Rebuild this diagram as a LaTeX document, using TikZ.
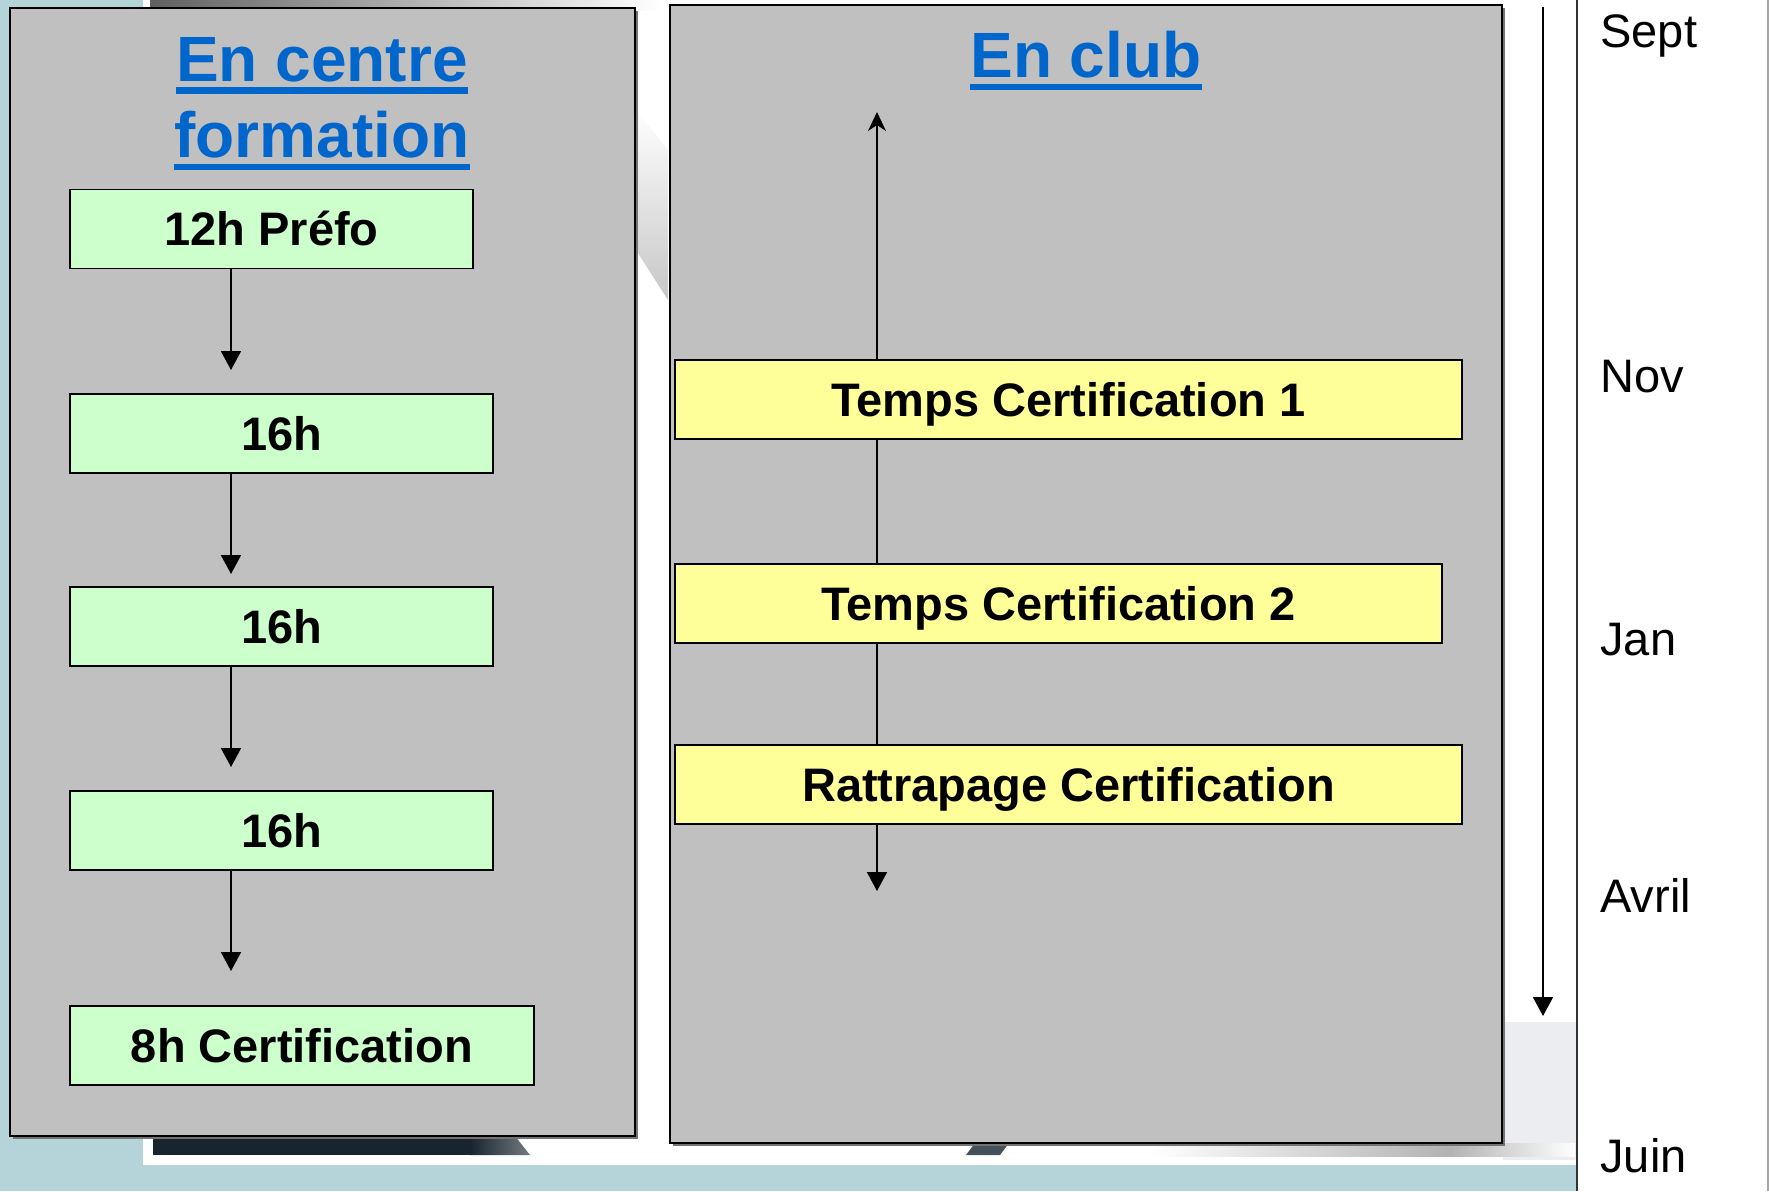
\documentclass[tikz,border=0pt]{standalone}
\usepackage{fontspec}
\setmainfont{Liberation Sans}
\usetikzlibrary{arrows.meta}
\definecolor{bgblue}{RGB}{180,212,218}
\definecolor{panelgray}{RGB}{192,192,192}
\definecolor{boxgreen}{RGB}{204,255,204}
\definecolor{boxyellow}{RGB}{255,255,153}
\definecolor{titleblue}{RGB}{0,102,204}
\definecolor{stripdark}{RGB}{24,36,46}
\definecolor{paleback}{RGB}{236,237,240}
\begin{document}
\begin{tikzpicture}[x=0.5pt,y=-0.5pt,
  panel/.style={draw=black, fill=panelgray, line width=1.1pt},
  panelshadow/.style={fill=black!55},
  boxbase/.style={draw=black, line width=0.9pt, inner sep=0pt,
    font=\fontsize{23.5}{28}\selectfont\bfseries, text height=16.8pt, text depth=0pt,
    minimum height=39.5pt},
  greenbox/.style={boxbase, fill=boxgreen},
  yellowbox/.style={boxbase, fill=boxyellow},
  titletext/.style={inner sep=0pt, anchor=base, text=titleblue,
    font=\fontsize{32}{38}\selectfont\bfseries},
  uline/.style={draw=titleblue, line width=3.3pt},
  month/.style={inner sep=0pt, anchor=base west, font=\fontsize{23.5}{28}\selectfont},
  arr/.style={draw=black, line width=0.9pt, -{Triangle[length=9.5pt,width=10pt]}},
  uparr/.style={draw=black, line width=0.9pt, -{Stealth[length=9.5pt,width=9pt,inset=3pt]}},
  plainline/.style={draw=black, line width=0.9pt}]
\useasboundingbox (0,0) rectangle (1769,1191);
% background
\fill[bgblue] (0,0) rectangle (1769,1191);
\fill[white] (143,0) rectangle (1577,1165);
\fill[white] (1577,0) rectangle (1769,1191);
\shade[left color=gray!75!black, right color=white] (150,0) rectangle (660,10);
\shade[top color=white, bottom color=gray!55, opacity=0.8] (636,110) -- (668,150) -- (668,300) -- (636,250) -- cycle;
\fill[paleback] (1503,1022) rectangle (1577,1160);
\fill[stripdark] (153,1136) rectangle (470,1155);
\shade[left color=stripdark, right color=stripdark!60!white] (470,1136) -- (515,1136) -- (530,1155) -- (470,1155) -- cycle;
\fill[stripdark!80!white] (975,1143) -- (1009,1143) -- (1000,1155) -- (966,1155) -- cycle;
\shade[left color=white, right color=gray!60] (1150,1143) rectangle (1450,1156);
\shade[left color=gray!60, right color=white] (1450,1143) rectangle (1575,1156);
\draw[black!80, line width=1pt] (1577,0) -- (1577,1191);
\draw[gray!70, line width=1pt] (1768,0) -- (1768,1191);
% panels
\fill[panelshadow] (13,11) rectangle (638,1139);
\fill[panelshadow] (673,8) rectangle (1505,1146);
\draw[panel] (10,8) rectangle (635,1136);
\draw[panel] (670,5) rectangle (1502,1143);
% titles
\node[titletext] (tA) at (322,81) {En centre};
\node[titletext] (tB) at (322,157) {formation};
\node[titletext] (tC) at (1086,77) {En club};
\draw[uline] ([yshift=-4.75pt]tA.base west) -- ([yshift=-4.75pt]tA.base east);
\draw[uline] ([yshift=-5pt]tB.base west) -- ([yshift=-5pt]tB.base east);
\draw[uline] ([yshift=-5pt]tC.base west) -- ([yshift=-5pt]tC.base east);
% green boxes
\node[greenbox, minimum width=201.5pt] (b1) at (271.5,229) {12h Préfo};
\node[greenbox, minimum width=211.5pt] (b2) at (281.5,433.5) {16h};
\node[greenbox, minimum width=211.5pt] (b3) at (281.5,626.5) {16h};
\node[greenbox, minimum width=211.5pt] (b4) at (281.5,830.5) {16h};
\node[greenbox, minimum width=232pt] (b5) at (302,1045.5) {8h Certification};
\coordinate (t1) at (231,370);
\coordinate (t2) at (231,574);
\coordinate (t3) at (231,767);
\coordinate (t4) at (231,971);
\draw[arr] (b1.south -| t1) -- (t1);
\draw[arr] (b2.south -| t2) -- (t2);
\draw[arr] (b3.south -| t3) -- (t3);
\draw[arr] (b4.south -| t4) -- (t4);
% yellow boxes
\node[yellowbox, minimum width=393.5pt] (y1) at (1068.5,399.5) {Temps Certification 1};
\node[yellowbox, minimum width=383.5pt] (y2) at (1058.5,603.5) {Temps Certification 2};
\node[yellowbox, minimum width=393.5pt] (y3) at (1068.5,784.5) {Rattrapage Certification};
\coordinate (up) at (877,112);
\coordinate (dn) at (877,891);
\draw[uparr] (y1.north -| up) -- (up);
\draw[plainline] (y1.south -| up) -- (y2.north -| up);
\draw[plainline] (y2.south -| up) -- (y3.north -| up);
\draw[arr] (y3.south -| dn) -- (dn);
% timeline
\coordinate (tlS) at (1543,7);
\coordinate (tlE) at (1543,1016);
\draw[arr] (tlS) -- (tlE);
\node[month] (m1) at (1600,47) {Sept};
\node[month] (m2) at (1600,392) {Nov};
\node[month] (m3) at (1600,655) {Jan};
\node[month] (m4) at (1600,912) {Avril};
\node[month] (m5) at (1600,1172) {Juin};
\end{tikzpicture}
\end{document}
